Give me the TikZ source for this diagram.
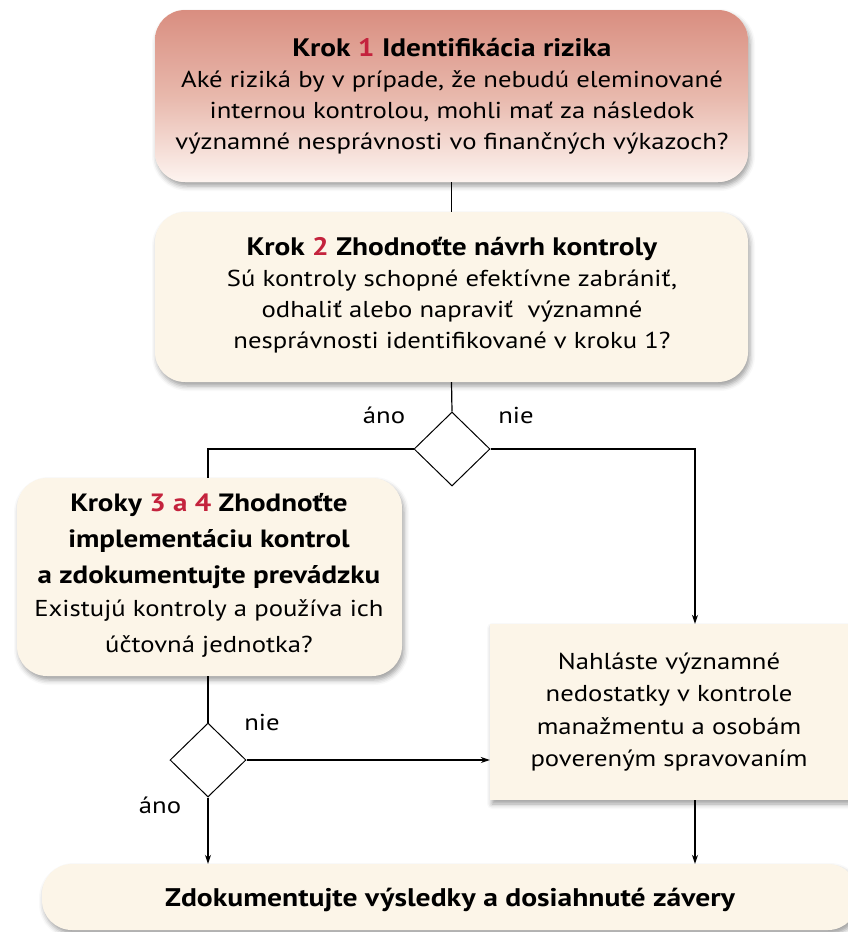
\documentclass[tikz,border=0pt]{standalone}
\usepackage{fontspec}
\setmainfont{PT Sans}[FakeStretch=1.16]
\usetikzlibrary{shapes.geometric,arrows.meta,shadows.blur}
\definecolor{cream}{HTML}{FCF5E8}
\definecolor{rosetop}{HTML}{D98E80}
\definecolor{rosemid}{HTML}{E8B8AC}
\definecolor{rosebot}{HTML}{FDF4F0}
\definecolor{stepred}{HTML}{C4233D}
\newcommand{\stepno}[1]{\textcolor{stepred}{#1}}
\newcommand{\bodysize}{\fontsize{23}{32}\selectfont}

\begin{document}
\begin{tikzpicture}[x=1pt,y=-1pt,
  boxshadow/.style={blur shadow={shadow xshift=2pt,shadow yshift=-4pt,
      shadow blur radius=5pt,shadow opacity=38}},
  roundbox/.style={rounded corners=30pt,fill=cream,boxshadow,inner sep=0pt},
  squarebox/.style={fill=cream,boxshadow,inner sep=0pt},
  boxtext/.style={align=center,inner sep=0pt,font=\fontsize{23}{31}\selectfont},
  decision/.style={diamond,draw,line width=1pt,fill=white,inner sep=0pt,
      minimum width=76pt,minimum height=74pt},
  lbl/.style={inner sep=0pt,font=\fontsize{23}{26}\selectfont},
  link/.style={line width=1.2pt},
  arrow/.style={link,-{Stealth[length=9pt,width=6pt]}}
]
\useasboundingbox (0,0) rectangle (848,932);

% step 1: risk identification (shaded box)
\node[roundbox,top color=rosetop,bottom color=rosebot,middle color=rosemid,
      minimum width=593pt,minimum height=172pt] (b1) at (451.5,96) {};
\node[boxtext] (b1t) at (452,96)
  {{\fontsize{25.3}{31}\selectfont\bfseries Krok \stepno{1} Identifikácia rizika}\\
   Aké riziká by v prípade, že nebudú eleminované\\
   internou kontrolou, mohli mať za následok\\
   významné nesprávnosti vo finančných výkazoch?};

% step 2: control design
\node[roundbox,minimum width=593pt,minimum height=170pt] (b2) at (451.5,297) {};
\node[boxtext] (b2t) at (452,295)
  {{\fontsize{25.3}{31}\selectfont\bfseries Krok \stepno{2} Zhodnoťte návrh kontroly}\\
   Sú kontroly schopné efektívne zabrániť,\\
   odhaliť alebo napraviť\ \ významné\\
   nesprávnosti identifikované v kroku 1?};

% first decision
\node[decision] (d1) at (452,449) {};
\node[lbl] (d1yes) at (384,415) {áno};
\node[lbl] (d1no) at (516,415) {nie};

% steps 3 and 4
\node[roundbox,minimum width=385pt,minimum height=198pt] (b3) at (209.5,577) {};
\node[boxtext,font=\fontsize{25}{36}\selectfont] (b3t) at (209,575)
  {{\bfseries Kroky \stepno{3 a 4} Zhodnoťte}\\
   {\bfseries implementáciu kontrol}\\
   {\bfseries a zdokumentujte prevádzku}\\[-3pt]
   {\bodysize Existujú kontroly a používa ich}\\
   {\bodysize účtovná jednotka?}};

% reporting of deficiencies
\node[squarebox,minimum width=362pt,minimum height=176pt] (b4) at (671,712) {};
\node[boxtext,font=\fontsize{23}{32.5}\selectfont] (b4t) at (669,712)
  {Nahláste významné\\
   nedostatky v kontrole\\
   manažmentu a osobám\\
   povereným spravovaním};

% second decision
\node[decision] (d2) at (208,760) {};
\node[lbl] (d2no) at (262,722) {nie};
\node[lbl] (d2yes) at (160,805) {áno};

% final documentation
\node[roundbox,minimum width=816pt,minimum height=66pt] (b5) at (450,897) {};
\node[boxtext,font=\fontsize{25.5}{30}\selectfont\bfseries] (b5t) at (450,900)
  {Zdokumentujte výsledky a dosiahnuté závery};

% connectors
\draw[link] (b1.south) -- (b2.north);
\draw[link] (b2.south) -- (d1.north);
\draw[link] (d1.west) -| ([xshift=-1.5pt]b3.north);
\draw[arrow] (d1.east) -| ([xshift=24pt]b4.north);
\draw[link] ([xshift=-1.5pt]b3.south) -- (d2.north);
\draw[arrow] (d2.east) -- (d2.east -| b4.west);
\draw[arrow] (d2.south) -- (d2.south |- b5.north);
\draw[arrow] ([xshift=24pt]b4.south) -- ([xshift=24pt]b4.south |- b5.north);
\end{tikzpicture}
\end{document}
